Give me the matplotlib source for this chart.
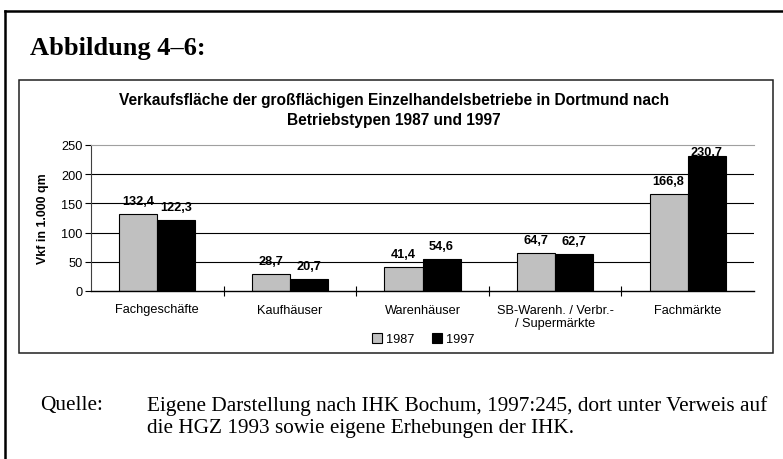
import numpy as np
import matplotlib.pyplot as plt
from matplotlib.patches import Rectangle
from matplotlib.lines import Line2D

kategorien = ['Fachgeschäfte', 'Kaufhäuser', 'Warenhäuser',
              'SB-Warenh. / Verbr.-\n/ Supermärkte', 'Fachmärkte']
werte_1987 = [132.4, 28.7, 41.4, 64.7, 166.8]
werte_1997 = [122.3, 20.7, 54.6, 62.7, 230.7]
jahre = ['1987', '1997']

W, H = 783, 460
fig = plt.figure(figsize=(W / 100, H / 100), dpi=100)

sans = 'Liberation Sans'
serif = 'Liberation Serif'
fs = 9.2

# Rahmen aussen (links und oben)
fig.add_artist(Line2D([5 / W, 5 / W], [0, 1 - 12 / H], color='black', lw=1.8, transform=fig.transFigure))
fig.add_artist(Line2D([5 / W, 1], [1 - 12 / H, 1 - 12 / H], color='black', lw=1.8, transform=fig.transFigure))

# Rahmen um das Diagramm
fig.add_artist(Rectangle((19 / W, 1 - 354 / H), (773 - 19) / W, (354 - 81) / H,
                         fill=False, edgecolor='#202020', lw=1.1, transform=fig.transFigure))

fig.text(30 / W, 1 - 49 / H, 'Abbildung 4–6:', fontsize=19, fontweight='bold',
         family=serif, va='center', ha='left')

fig.text(394 / W, 1 - 101 / H, 'Verkaufsfläche der großflächigen Einzelhandelsbetriebe in Dortmund nach',
         fontsize=11.2, fontweight='bold', family=sans, ha='center', va='center')
fig.text(394 / W, 1 - 120 / H, 'Betriebstypen 1987 und 1997',
         fontsize=11.2, fontweight='bold', family=sans, ha='center', va='center')

ax = fig.add_axes([91 / W, 1 - 292 / H, (754 - 91) / W, (292 - 146) / H])

x = np.arange(len(kategorien))
b = 0.287
bars1 = ax.bar(x - b / 2, werte_1987, b, color='#c0c0c0', edgecolor='black', lw=0.8, label=jahre[0])
bars2 = ax.bar(x + b / 2, werte_1997, b, color='black', edgecolor='black', lw=0.8, label=jahre[1])

ax.set_xlim(-0.5, len(kategorien) - 0.5)
ax.set_ylim(0, 250)
ax.set_yticks(range(0, 251, 50))
for y in range(50, 201, 50):
    ax.axhline(y, color='black', lw=0.8, zorder=0)

ax.spines['right'].set_visible(False)
ax.spines['top'].set_color('#a0a0a0')
ax.spines['left'].set_color('#404040')
ax.spines['bottom'].set_color('black')
ax.spines['left'].set_linewidth(0.8)
ax.spines['bottom'].set_linewidth(1.0)

ax.set_xticks(np.arange(0.5, len(kategorien) - 1, 1))
ax.set_xticklabels([])
ax.tick_params(axis='x', direction='inout', length=7, width=0.8)
ax.set_xticks(x, minor=True)
ax.set_xticklabels(kategorien, minor=True, fontsize=fs, family=sans)
ax.tick_params(axis='x', which='minor', length=0, pad=9)
ax.tick_params(axis='y', direction='out', length=4, width=0.8, labelsize=fs, pad=2)
for t in ax.get_yticklabels():
    t.set_family(sans)

ax.set_ylabel('Vkf in 1.000 qm', fontsize=8.9, fontweight='bold', family=sans, labelpad=9)

for bars, werte in [(bars1, werte_1987), (bars2, werte_1997)]:
    for r, v in zip(bars, werte):
        off = 5 if v < 220 else -1
        ax.annotate(f'{v:.1f}'.replace('.', ','), (r.get_x() + r.get_width() / 2, v),
                    xytext=(0, off), textcoords='offset points', ha='center', va='bottom',
                    fontsize=fs, fontweight='bold', family=sans, annotation_clip=False)

fig.legend(handles=[bars1, bars2], labels=jahre, loc='center', ncol=2,
           bbox_to_anchor=(423 / W, 1 - 340 / H), frameon=False,
           handlelength=0.8, handleheight=0.8, handletextpad=0.3, columnspacing=1.4,
           prop={'family': sans, 'size': fs})

fig.text(40 / W, 1 - 406 / H, 'Quelle:', fontsize=15.3, family=serif, va='center')
fig.text(147 / W, 1 - 406 / H, 'Eigene Darstellung nach IHK Bochum, 1997:245, dort unter Verweis auf',
         fontsize=15.3, family=serif, va='center')
fig.text(147 / W, 1 - 429 / H, 'die HGZ 1993 sowie eigene Erhebungen der IHK.',
         fontsize=15.3, family=serif, va='center')

fig.savefig('out.png', dpi=100)
